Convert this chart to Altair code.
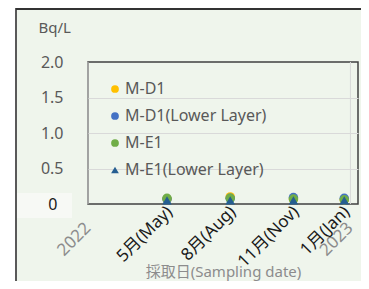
import altair as alt
import pandas as pd

# ---- data ----
series = ["M-D1", "M-D1(Lower Layer)", "M-E1", "M-E1(Lower Layer)"]
colors = ["#ffc000", "#4472c4", "#70ad47", "#255e91"]
shapes = ["circle", "circle", "circle", "triangle-up"]
sample_dates = ["2022-05-10", "2022-08-10", "2022-11-10", "2023-01-23"]
month_labels = ["5月(May)", "8月(Aug)", "11月(Nov)", "1月(Jan)"]
year_labels = ["2022", "2023"]
year_dates = ["2022-01-15", "2023-02-01"]
m_d1 = [0.07, 0.10, 0.07, 0.06]
m_d1_lower = [0.07, 0.08, 0.09, 0.08]
m_e1 = [0.08, 0.08, 0.07, 0.06]
m_e1_lower = [0.05, 0.05, 0.05, 0.05]
y_ticks = [0, 0.5, 1.0, 1.5, 2.0]
x_domain = ["2022-01-15", "2023-02-12"]

FONT = "'Noto Sans', 'Noto Sans CJK JP', sans-serif"
W, H = 270, 142


def dt(s):
    y, m, d = (int(v) for v in s.split("-"))
    return alt.DateTime(year=y, month=m, date=d, utc=True)


xscale = alt.Scale(type="utc", domain=[dt(s) for s in x_domain])

rows = []
for name, vals in zip(series, [m_d1, m_d1_lower, m_e1, m_e1_lower]):
    for d, v in zip(sample_dates, vals):
        rows.append({"series": name, "date": d, "value": v})
pts = pd.DataFrame(rows)
months = pd.DataFrame({"date": sample_dates, "label": month_labels})
years = pd.DataFrame({"date": year_dates, "label": year_labels})
one = pd.DataFrame({"k": [0]})

legend = alt.Legend(title=None, orient="none", legendX=19, legendY=19,
                    padding=0, rowPadding=11, symbolSize=60,
                    labelFontSize=16, labelColor="#595959",
                    labelFont=FONT, labelOffset=2, zindex=2)

edge_test = "datum.value == 0 || datum.value == 2"

points = alt.Chart(pts).mark_point(filled=True, opacity=1, size=90).encode(
    x=alt.X("date:T", scale=xscale,
            axis=alt.Axis(labels=False, ticks=False, domain=False, grid=False,
                          title="採取日(Sampling date)", titleY=72,
                          titleBaseline="alphabetic", titleColor="#8c8c8c",
                          titleFontSize=15, titleFontWeight="normal", titleFont=FONT)),
    y=alt.Y("value:Q", scale=alt.Scale(domain=[0, 2]),
            axis=alt.Axis(values=y_ticks, ticks=False, domain=False, grid=True,
                          gridColor="#d9d9d9", gridWidth=1, zindex=1,
                          gridOpacity={"condition": {"test": edge_test, "value": 0}, "value": 1},
                          labelFontSize=16, labelFont=FONT,
                          format=".1f",
                          labelExpr="datum.value == 0 ? '0' : datum.label",
                          labelColor={"condition": {"test": "datum.value == 0", "value": "#1a1a1a"}, "value": "#595959"},
                          labelPadding={"condition": {"test": "datum.value == 0", "value": 31}, "value": 25},
                          title="Bq/L", titleAngle=0, titleAlign="left",
                          titleBaseline="alphabetic", titleX=-50, titleY=-30,
                          titleColor="#595959", titleFontSize=15,
                          titleFontWeight="normal", titleFont=FONT)),
    color=alt.Color("series:N", scale=alt.Scale(domain=series, range=colors), legend=legend),
    shape=alt.Shape("series:N", scale=alt.Scale(domain=series, range=shapes), legend=legend),
    order=alt.Order("idx:Q"),
).transform_calculate(idx="indexof(%s, datum.series)" % str(series))

white_strip = alt.Chart(one).mark_rect(color="white").encode(
    x=alt.value(-80), x2=alt.value(-73), y=alt.value(-54), y2=alt.value(219))
left_border = alt.Chart(one).mark_rule(color="#595959", strokeWidth=2).encode(
    x=alt.value(-72), y=alt.value(-54), y2=alt.value(219))
top_border = alt.Chart(one).mark_rule(color="#333333", strokeWidth=2).encode(
    x=alt.value(-72), x2=alt.value(275), y=alt.value(-53))
zero_box = alt.Chart(one).mark_rect(color="#f7f9f5").encode(
    x=alt.value(-71), x2=alt.value(-16), y=alt.value(131), y2=alt.value(156))

year_grid = alt.Chart(years).mark_rule(color="#d9d9d9", strokeWidth=1).encode(
    x=alt.X("date:T", scale=xscale), y=alt.value(0), y2=alt.value(H))
year_text = alt.Chart(years).mark_text(
    angle=315, align="right", baseline="top", dx=-4, dy=-4,
    fontSize=17, color="#8c8c8c", font=FONT).encode(
    x=alt.X("date:T", scale=xscale), y=alt.value(H + 16), text="label:N")
month_text = alt.Chart(months).mark_text(
    angle=315, align="right", baseline="top", dx=-1, dy=-3,
    fontSize=17, color="#1a1a1a", font=FONT).encode(
    x=alt.X("date:T", scale=xscale), y=alt.value(H + 1), text="label:N")

chart = alt.layer(
    white_strip, left_border, top_border, zero_box, year_grid,
    points, year_text, month_text,
).properties(
    width=W, height=H,
    padding={"left": 80, "top": 54, "right": 3, "bottom": 77},
    autosize=alt.AutoSizeParams(type="none"),
).configure(
    background="#eff5ec", font=FONT,
).configure_view(stroke="#404040", strokeWidth=1.5)

chart.save("out.html", embed_options={"renderer": "svg", "actions": False})
